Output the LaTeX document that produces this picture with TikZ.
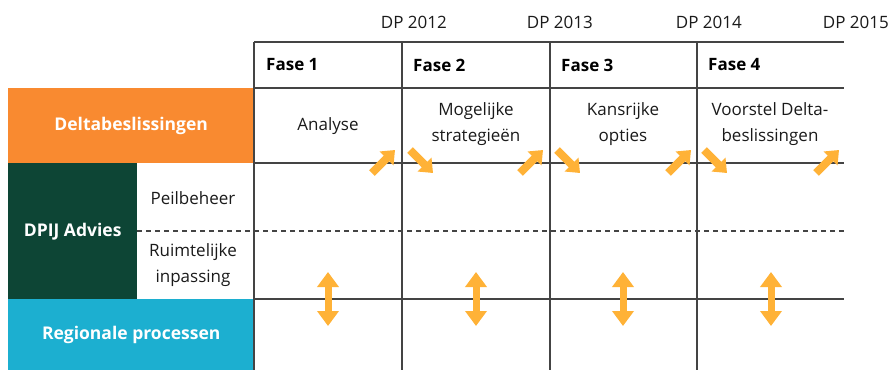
\documentclass[tikz,border=0pt]{standalone}
\usepackage{fontspec}
\setmainfont{Open Sans}
\usetikzlibrary{arrows.meta}
\definecolor{orng}{HTML}{F98A30}
\definecolor{dgreen}{HTML}{0D4535}
\definecolor{cyanb}{HTML}{1CAFD0}
\definecolor{arrc}{HTML}{FFB237}
\definecolor{gridc}{HTML}{444444}
\definecolor{txtc}{HTML}{1A1A1A}
\begin{document}
\begin{tikzpicture}[x=1pt,y=-1pt,
  gridline/.style={draw=gridc,line width=1.4pt},
  dashline/.style={draw=gridc,line width=1.3pt,dash pattern=on 5pt off 4pt},
  lbl/.style={font=\fontsize{17}{26.5}\selectfont,text=txtc,align=center,inner sep=0pt},
  hdr/.style={font=\bfseries\fontsize{17}{20}\selectfont,text=black,inner sep=0pt,anchor=west},
  band/.style={font=\bfseries\fontsize{17.5}{20}\selectfont,text=white,inner sep=0pt,anchor=north west},
  diag/.style={draw=arrc,line width=8pt,-{Triangle[width=19pt,length=12pt]}},
  vert/.style={draw=arrc,line width=7pt,{Triangle[width=21pt,length=15pt]}-{Triangle[width=21pt,length=15pt]}}
]
\useasboundingbox (0,0) rectangle (892,370);
% coloured bands
\node[band,fill=orng,minimum width=246pt,minimum height=75pt] (delta) at (8,88) {Deltabeslissingen};
\node[band,fill=dgreen,minimum width=129pt,minimum height=136pt] (dpij) at (8,163) {DPIJ Advies};
\node[band,fill=cyanb,minimum width=246pt,minimum height=71pt] (regio) at (8,299) {Regionale processen};
% grid
\draw[gridline] (254,42) -- (844,42);
\draw[gridline] (254,88) -- (844,88);
\draw[gridline] (254,163) -- (844,163);
\draw[gridline] (254,299) -- (844,299);
\draw[dashline] (137,231) -- (844,231);
\foreach \x in {254,402,550,697} \draw[gridline] (\x,42) -- (\x,370);
% DP labels
\node[lbl,anchor=east] (dp12) at (447,22) {DP 2012};
\node[lbl,anchor=east] (dp13) at (593,22) {DP 2013};
\node[lbl,anchor=east] (dp14) at (742,22) {DP 2014};
\node[lbl,anchor=east] (dp15) at (889,22) {DP 2015};
% phase headers
\node[hdr] (f1) at (266,65) {Fase 1};
\node[hdr] (f2) at (413,65) {Fase 2};
\node[hdr] (f3) at (561,65) {Fase 3};
\node[hdr] (f4) at (708,65) {Fase 4};
% contents
\node[lbl] (c1) at (328,126) {Analyse};
\node[lbl] (c2) at (476,124) {Mogelijke\\strategieën};
\node[lbl] (c3) at (623,124) {Kansrijke\\opties};
\node[lbl] (c4) at (770,124) {Voorstel Delta-\\beslissingen};
\node[lbl] (peil) at (193,198) {Peilbeheer};
\node[lbl] (ruimte) at (193,265) {Ruimtelijke\\inpassing};
% diagonal arrows
\foreach \x in {395,543,691,839} \draw[diag] (\x-23,173) -- (\x,150);
\foreach \x in {410,557,704} \draw[diag] (\x,150) -- (\x+23,173);
% vertical double arrows
\foreach \x in {328,476,623,771} \draw[vert] (\x,272) -- (\x,326);
\end{tikzpicture}
\end{document}
